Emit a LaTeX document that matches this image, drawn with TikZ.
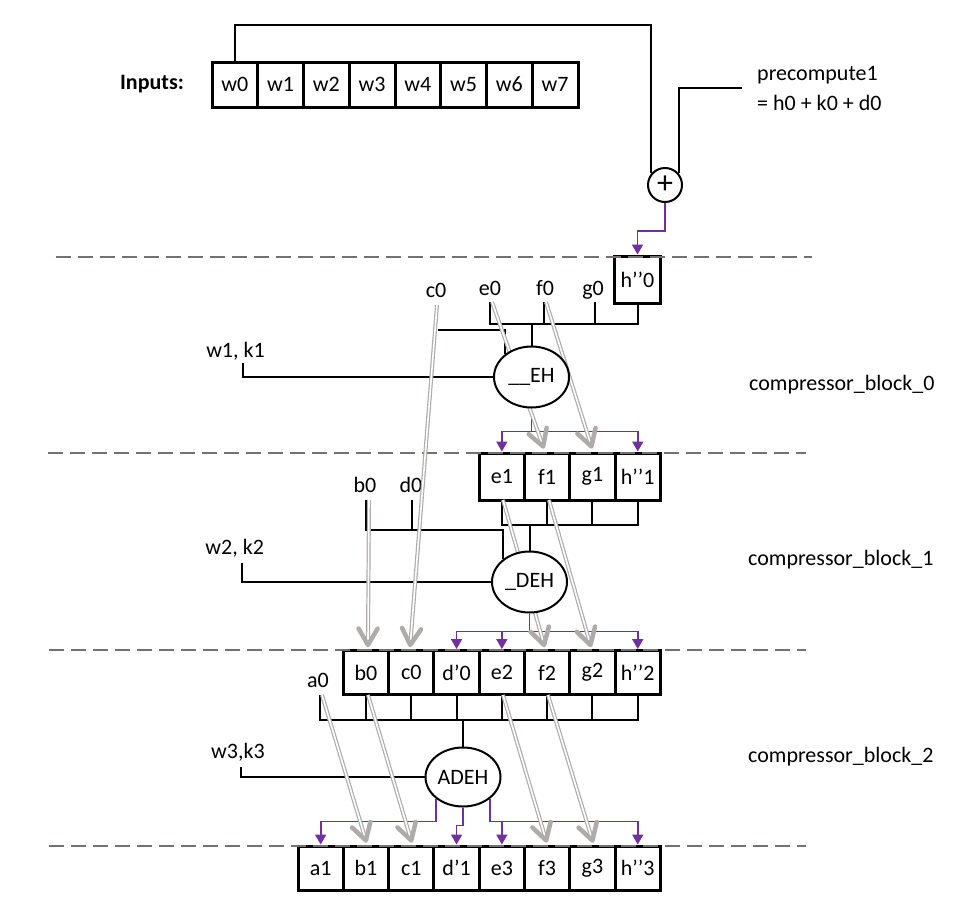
\documentclass[tikz,border=0pt]{standalone}
\usepackage{fontspec}
\setmainfont{Carlito}
\usetikzlibrary{calc,arrows.meta,shapes.geometric}
\definecolor{purp}{HTML}{7030A0}
\definecolor{dashgray}{HTML}{767171}
\definecolor{garrow}{HTML}{AFABAB}
\pgfdeclarelayer{front}
\pgfsetlayers{main,front}
\newcommand\grayarrow[2]{%
  \draw[gdbl] (#1) -- (#2);
  \draw[ghead] ($(#2)!19pt!30:(#1)$) -- (#2) -- ($(#2)!19pt!-30:(#1)$);
}
\begin{document}
\begin{tikzpicture}[x=1pt,y=-1pt, font=\fontsize{22}{26}\selectfont,
 cell/.style={draw, line width=3pt, minimum width=45.3pt, minimum height=45pt, inner sep=0pt},
 blk/.style={draw, ellipse, line width=2pt, minimum width=75pt, minimum height=61pt, inner sep=0pt, fill=white},
 wire/.style={line width=2pt},
 pwire/.style={draw=purp, line width=1.8pt},
 parr/.style={pwire, -{Triangle[width=11pt,length=10pt]}},
 gdbl/.style={draw=garrow, line width=1.2pt, double=white, double distance=1.6pt},
 ghead/.style={draw=garrow, line width=4.5pt, line cap=round, line join=round},
 dashsep/.style={draw=dashgray, line width=2pt, dash pattern=on 15pt off 7pt},
 lbl/.style={inner sep=0pt, anchor=base},
]
\useasboundingbox (0,0) rectangle (974,905);

% ---------- inputs ----------
\node[font=\bfseries\fontsize{22}{26}\selectfont] (inlbl) at (152,84) {Inputs:};
\foreach \i in {0,...,7}
  \node[cell, minimum width=45.75pt] (w\i) at ({234.9+45.75*\i},84.5) {w\i};

\node[draw, circle, line width=2pt, minimum size=34pt, inner sep=0pt] (plus) at (665,185) {\fontsize{32}{32}\selectfont +};
\node[anchor=west, inner sep=0pt] (pc1) at (757,75) {precompute1};
\node[anchor=west, inner sep=0pt] (pc2) at (757,103) {= h0 + k0 + d0};
\coordinate (pcin) at (742,88);
\coordinate (toploop) at (0,25);
\draw[wire] (w0.north) |- (toploop -| plus.140) -- (plus.140);
\draw[wire] (plus.40) |- (pcin);

% ---------- block 0 ----------
\node[cell, minimum height=47pt] (h0) at (637.5,279.5) {h’{}’0};
\node[lbl] (c0l) at (436,297) {c0};
\node[lbl] (e0l) at (490,295) {e0};
\node[lbl] (f0l) at (545,295) {f0};
\node[lbl] (g0l) at (593,295) {g0};
\node[lbl] (w1k1) at (235.5,357) {w1, k1};
\begin{pgfonlayer}{front}
\node[blk] (EH) at (531.5,377) {\_\_EH};
\node[blk] (DEH) at (529.5,582) {\_DEH};
\node[blk, minimum height=59pt] (ADEH) at (463,777) {ADEH};
\end{pgfonlayer}

% row 1
\foreach \n/\t [count=\k from 4] in {e1/e1, f1/f1, g1/g1, h1/{h’{}’1}}
  \node[cell, minimum height=47pt] (\n) at ({320.65+45.3*\k},476.5) {\t};
% row 2
\foreach \n/\t [count=\k from 1] in {rb0/b0, rc0/c0, rd0/{d’0}, re2/e2, rf2/f2, rg2/g2, rh2/{h’{}’2}}
  \node[cell, minimum height=44pt] (\n) at ({320.65+45.3*\k},672.5) {\t};
% row 3
\foreach \n/\t [count=\k from 0] in {ra1/a1, rb1/b1, rc1/c1, rd1/{d’1}, re3/e3, rf3/f3, rg3/g3, rh3/{h’{}’3}}
  \node[cell, minimum height=44pt] (\n) at ({320.65+45.3*\k},868) {\t};

% separators
\draw[dashsep] (56,257) -- (812,257);
\draw[dashsep] (48,453) -- (806,453);
\draw[dashsep] (49,650) -- (806,650);
\draw[dashsep] (49,846) -- (806,846);

\node[anchor=west, inner sep=0pt] (cb0) at (749,385) {compressor\_block\_0};
\node[anchor=west, inner sep=0pt] (cb1) at (748,560) {compressor\_block\_1};
\node[anchor=west, inner sep=0pt] (cb2) at (748,757) {compressor\_block\_2};

% block 0 wires
\coordinate (e0s) at (490,302);
\coordinate (f0s) at (544,302);
\coordinate (g0s) at (595,302);
\coordinate (bus0) at (0,324);
\draw[wire] (e0s) |- (bus0 -| h0.south) -- (h0.south);
\draw[wire] (f0s) -- (f0s |- bus0);
\draw[wire] (g0s) -- (g0s |- bus0);
\draw[wire] (EH.north) -- (EH.north |- bus0);
\coordinate (c0j) at (438,330);
\draw[wire] (c0j) -| (EH.139);
\coordinate (w1s) at (242.7,363);
\draw[wire] (w1s) |- (EH.west);

\draw[parr] (plus.south) -- ++(0,28) -| (h0.north);
\coordinate (p0) at ($(EH.south)+(0,23)$);
\draw[pwire] (EH.south) -- (p0);
\draw[parr] (p0) -| (e1.north);
\draw[parr] (p0) -| (h1.north);

% block 1 wires
\node[lbl] (b0l) at (365,492) {b0};
\node[lbl] (d0l) at (411,492) {d0};
\node[lbl] (w2k2) at (234.7,554) {w2, k2};
\coordinate (b0s) at (366,500);
\coordinate (d0s) at (412,500);
\coordinate (b0j) at (366,530);
\draw[wire] (b0s) -- (b0j) -| (DEH.140);
\draw[wire] (d0s) -- (d0s |- b0j);
\coordinate (bus1) at (0,525);
\draw[wire] (e1.south) |- (bus1 -| h1.south) -- (h1.south);
\draw[wire] (f1.south) -- (f1.south |- bus1);
\draw[wire] (g1.south) -- (g1.south |- bus1);
\draw[wire] (DEH.north) -- (DEH.north |- bus1);
\coordinate (w2s) at (241.7,563);
\draw[wire] (w2s) |- (DEH.west);

\coordinate (p1) at ($(DEH.south)+(0,18)$);
\draw[pwire] (DEH.south) -- (p1);
\draw[parr] (p1) -| (rd0.north);
\draw[parr] (p1) -| (re2.north);
\draw[parr] (p1) -| (rh2.north);

% block 2 wires
\node[lbl] (a0l) at (318,687) {a0};
\node[lbl] (w3k3) at (238,758) {w3,k3};
\coordinate (a0s) at (320,695);
\coordinate (bus2) at (0,720);
\draw[wire] (a0s) |- (bus2 -| rh2.south) -- (rh2.south);
\foreach \n in {rb0,rc0,rd0,re2,rf2,rg2}
  \draw[wire] (\n.south) -- (\n.south |- bus2);
\draw[wire] (ADEH.north) -- (ADEH.north |- bus2);
\coordinate (w3s) at (241,767);
\draw[wire] (w3s) |- (ADEH.west);

\draw[parr] (ADEH.219) -- ($(ADEH.219 |- ra1.north)+(0,-23)$) -| (ra1.north);
\draw[parr] (ADEH.south) -- ($(ADEH.south |- rd1.north)+(0,-19)$) -| (rd1.north);
\coordinate (p2r) at ($(ADEH.321 |- rh3.north)+(0,-23)$);
\draw[pwire] (ADEH.321) -- (p2r);
\draw[parr] (p2r) -| (re3.north);
\draw[parr] (p2r) -| (rh3.north);

% grey pass-through arrows
\coordinate (ge0) at (492,302);  \coordinate (te0) at ($(f1.north)+(-4,-5)$);
\coordinate (gf0) at (546,302);  \coordinate (tf0) at ($(g1.north)+(-1,-5)$);
\coordinate (gc0) at (437,305);  \coordinate (tc0) at ($(rc0.north)+(-1,-4)$);
\coordinate (gb0) at (369,500);  \coordinate (tb0) at ($(rb0.north)+(2,-4)$);
\coordinate (ge1) at (503,500);  \coordinate (te1) at ($(rf2.north)+(-3,-4)$);
\coordinate (gf1) at (549,500);  \coordinate (tf1) at ($(rg2.north)+(-2,-4)$);
\coordinate (ga0) at (322,695);  \coordinate (ta0) at ($(rb1.north)+(0,-4)$);
\coordinate (gb2) at (368,695);  \coordinate (tb2) at ($(rc1.north)+(0,-4)$);
\coordinate (ge2) at (503,695);  \coordinate (te2) at ($(rf3.north)+(-1,-4)$);
\coordinate (gf2) at (548,695);  \coordinate (tf2) at ($(rg3.north)+(0,-4)$);
\grayarrow{ge0}{te0}
\grayarrow{gf0}{tf0}
\grayarrow{gc0}{tc0}
\grayarrow{gb0}{tb0}
\grayarrow{ge1}{te1}
\grayarrow{gf1}{tf1}
\grayarrow{ga0}{ta0}
\grayarrow{gb2}{tb2}
\grayarrow{ge2}{te2}
\grayarrow{gf2}{tf2}
\end{tikzpicture}
\end{document}
